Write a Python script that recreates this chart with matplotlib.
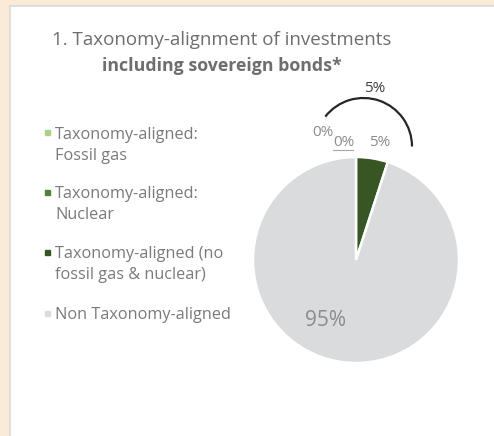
import matplotlib.pyplot as plt
from matplotlib.patches import Rectangle, Arc

W, H = 494, 436

labels = ['Taxonomy-aligned:\nFossil gas', 'Taxonomy-aligned:\nNuclear',
          'Taxonomy-aligned (no\nfossil gas & nuclear)', 'Non Taxonomy-aligned']
values = [0, 0, 5, 95]
colors = ['#A9D18E', '#548235', '#375623', '#DADBDD']
value_labels = ['0%', '0%', '5%', '95%']
bracket_label = '5%'
title1 = '1. Taxonomy-alignment of investments'
title2 = 'including sovereign bonds*'

plt.rcParams['font.family'] = ['Open Sans', 'DejaVu Sans']

fig = plt.figure(figsize=(W / 100, H / 100), dpi=100)
fig.patch.set_facecolor('#FAEBD9')


def fx(px):
    return px / W


def fy(py):
    return 1 - py / H


# white panel
fig.patches.append(Rectangle((fx(10), -0.01), 1, fy(6) + 0.01, transform=fig.transFigure,
                             facecolor='white', edgecolor='#D9D9D9', lw=1.2, zorder=-5))

# title
fig.text(fx(222), fy(40), title1, ha='center', va='center', fontsize=13.5, color='#6E6E6E')
fig.text(fx(222), fy(66), title2, ha='center', va='center', fontsize=12.8,
         color='#6E6E6E', fontweight='bold')

# legend
leg_y = [133, 192, 252, 313]
for lab, col, y in zip(labels, colors, leg_y):
    fig.patches.append(Rectangle((fx(45), fy(y + 2.5)), 5 / W, 5 / H,
                                 transform=fig.transFigure, color=col))
    fig.text(fx(55), fy(y - 6), lab, ha='left', va='top', fontsize=11.7,
             color='#7A7A7A', linespacing=1.4)

# pie
cx, cy, r = 356, 260, 103
ax = fig.add_axes([fx(cx - r), fy(cy + r), 2 * r / W, 2 * r / H])
wedges, _ = ax.pie(values, colors=colors, startangle=90, counterclock=False,
                   wedgeprops=dict(edgecolor='white', linewidth=1.8))
ax.set_xlim(-1, 1)
ax.set_ylim(-1, 1)
ax.set_aspect('equal')
ax.axis('off')


def d(px, py):
    return ((px - cx) / r, (cy - py) / r)


# data labels
lab_pos = [(323, 132), (344, 142), (380, 142), (325, 321)]
lab_size = [11, 11, 11, 15]
for txt, (px, py), fs in zip(value_labels, lab_pos, lab_size):
    ax.text(*d(px, py), txt, ha='center', va='center', fontsize=fs,
            color='#8C8C8C', clip_on=False)
ax.plot(*zip(d(333, 150), d(353, 150)), color='#A6A6A6', lw=0.8, clip_on=False)

# bracket arc
ax.add_patch(Arc(d(363.5, 146.5), 2 * 48.5 / r, 2 * 48.5 / r, theta1=0, theta2=142,
                 color='#262626', lw=1.6, clip_on=False))
ax.text(*d(375, 89), bracket_label, ha='center', va='center', fontsize=11,
        color='#404040', clip_on=False)

fig.savefig('out.png', dpi=100, facecolor=fig.get_facecolor())
